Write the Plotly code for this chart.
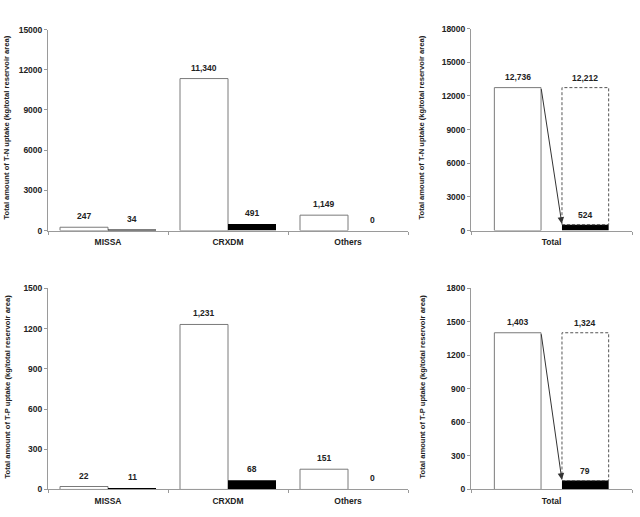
import plotly.graph_objects as go

# ---- data ----
categories = ["MISSA", "CRXDM", "Others"]
tn_before = [247, 11340, 1149]
tn_after = [34, 491, 0]
tp_before = [22, 1231, 151]
tp_after = [11, 68, 0]

total_label = ["Total"]
tn_total_before = 12736
tn_total_after = 524
tn_total_reduced = 12212
tp_total_before = 1403
tp_total_after = 79
tp_total_reduced = 1324

tn_ticks = [0, 3000, 6000, 9000, 12000, 15000]
tn_total_ticks = [0, 3000, 6000, 9000, 12000, 15000, 18000]
tp_ticks = [0, 300, 600, 900, 1200, 1500]
tp_total_ticks = [0, 300, 600, 900, 1200, 1500, 1800]

tn_title = "Total amount of T-N uptake (kg/total reservoir area)"
tp_title = "Total amount of T-P uptake (kg/total reservoir area)"

# ---- style ----
FONT = "Liberation Sans, Arial, sans-serif"
TXT = "#222222"
AXC = "#9a9a9a"
OUTL = "#7a7a7a"

W, H = 640, 517
def px_x(v): return v / W
def px_y(v): return 1 - v / H

fig = go.Figure()

panels = [
    ("x", "y", (48, 408), (25, 230), 15000, tn_ticks),
    ("x2", "y2", (471, 632), (24, 230), 18000, tn_total_ticks),
    ("x3", "y3", (48, 408), (289, 494), 1500, tp_ticks),
    ("x4", "y4", (471, 632), (289, 494), 1800, tp_total_ticks),
]

annotations = []
shapes = []

off = 0.2
bw = 0.4
idx = list(range(len(categories)))

def add_group(xa, ya, before, after):
    xb = [i - off for i in idx]
    xf = [i + off for i in idx]
    fig.add_trace(go.Bar(x=xb, y=before, width=bw, xaxis=xa, yaxis=ya,
                         marker=dict(color="white", line=dict(color=OUTL, width=1)),
                         showlegend=False, hoverinfo="skip"))
    fig.add_trace(go.Bar(x=xf, y=after, width=bw, xaxis=xa, yaxis=ya,
                         marker=dict(color="black", line=dict(width=0)),
                         showlegend=False, hoverinfo="skip"))
    for xs, vals in ((xb, before), (xf, after)):
        for xv, v in zip(xs, vals):
            annotations.append(dict(x=xv, y=v, xref=xa, yref=ya, text=f"{v:,}",
                                    showarrow=False, yanchor="bottom", yshift=4,
                                    font=dict(family=FONT, size=8.5, color=TXT)))

add_group("x", "y", tn_before, tn_after)
add_group("x3", "y3", tp_before, tp_after)

toff = 0.21
tbw = 0.29

def add_total(xa, ya, before, after, reduced):
    fig.add_trace(go.Bar(x=[-toff], y=[before], width=tbw, xaxis=xa, yaxis=ya,
                         marker=dict(color="white", line=dict(color=OUTL, width=1)),
                         showlegend=False, hoverinfo="skip"))
    fig.add_trace(go.Bar(x=[toff], y=[after], width=tbw, xaxis=xa, yaxis=ya,
                         marker=dict(color="black", line=dict(width=0)),
                         showlegend=False, hoverinfo="skip"))
    shapes.append(dict(type="rect", xref=xa, yref=ya,
                       x0=toff - tbw / 2, x1=toff + tbw / 2,
                       y0=after, y1=after + reduced,
                       line=dict(color="#555555", width=1, dash="3px,2px"),
                       fillcolor="rgba(0,0,0,0)"))
    annotations.append(dict(x=-toff, y=before, xref=xa, yref=ya, text=f"{before:,}",
                            showarrow=False, yanchor="bottom", yshift=4,
                            font=dict(family=FONT, size=8.5, color=TXT)))
    annotations.append(dict(x=toff, y=after + reduced, xref=xa, yref=ya, text=f"{reduced:,}",
                            showarrow=False, yanchor="bottom", yshift=3,
                            font=dict(family=FONT, size=8.5, color=TXT)))
    annotations.append(dict(x=toff, y=after, xref=xa, yref=ya, text=f"{after:,}",
                            showarrow=False, yanchor="bottom", yshift=3,
                            font=dict(family=FONT, size=8.5, color=TXT)))
    annotations.append(dict(x=toff - tbw / 2, y=after, ax=-toff + tbw / 2, ay=before,
                            xref=xa, yref=ya, axref=xa, ayref=ya, text="",
                            showarrow=True, arrowhead=2, arrowsize=1.3, arrowwidth=1,
                            arrowcolor="#333333", standoff=1))

add_total("x2", "y2", tn_total_before, tn_total_after, tn_total_reduced)
add_total("x4", "y4", tp_total_before, tp_total_after, tp_total_reduced)

layout = dict(width=W, height=H, margin=dict(l=0, r=0, t=0, b=0),
              paper_bgcolor="white", plot_bgcolor="white", barmode="overlay",
              showlegend=False)

for (xa, ya, (xl, xr_), (yt, yb), ymax, ticks) in panels:
    xk = "xaxis" + xa[1:]
    yk = "yaxis" + ya[1:]
    if xa in ("x", "x3"):
        xrange = [-0.5, len(categories) - 0.5]
        tv = idx
        tt = categories
    else:
        xrange = [-0.5, 0.5]
        tv = [0]
        tt = total_label
    layout[xk] = dict(domain=[px_x(xl), px_x(xr_)], range=xrange, anchor=ya,
                      tickvals=tv, ticktext=[f"<b>{t}</b>" for t in tt],
                      ticks="", showgrid=False, zeroline=False,
                      showline=True, linecolor=AXC, linewidth=1,
                      ticklabelstandoff=3,
                      tickfont=dict(family=FONT, size=8.5, color=TXT),
                      minor=dict(tick0=0.5, dtick=1, ticks="outside", ticklen=3,
                                 tickcolor=AXC, showgrid=False),
                      fixedrange=True)
    layout[yk] = dict(domain=[px_y(yb), px_y(yt)], range=[0, ymax], anchor=xa,
                      tickvals=ticks, ticktext=[f"<b>{t}</b>" for t in ticks],
                      ticks="outside", ticklen=3, tickcolor=AXC,
                      showgrid=False, zeroline=False, showline=True,
                      linecolor=AXC, linewidth=1,
                      tickfont=dict(family=FONT, size=8.5, color=TXT),
                      fixedrange=True)

for xpx, ypx, txt in ((7, 125, tn_title), (422, 125, tn_title),
                      (7, 389, tp_title), (422, 389, tp_title)):
    annotations.append(dict(x=px_x(xpx), y=px_y(ypx), xref="paper", yref="paper",
                            text=f"<b>{txt}</b>", textangle=-90, showarrow=False,
                            xanchor="center", yanchor="middle",
                            font=dict(family=FONT, size=7.6, color=TXT)))

for a in annotations:
    if a.get("text") and not a["text"].startswith("<b>"):
        a["text"] = f"<b>{a['text']}</b>"

layout["annotations"] = annotations
layout["shapes"] = shapes
fig.update_layout(**layout)

fig.write_html("out.html")
